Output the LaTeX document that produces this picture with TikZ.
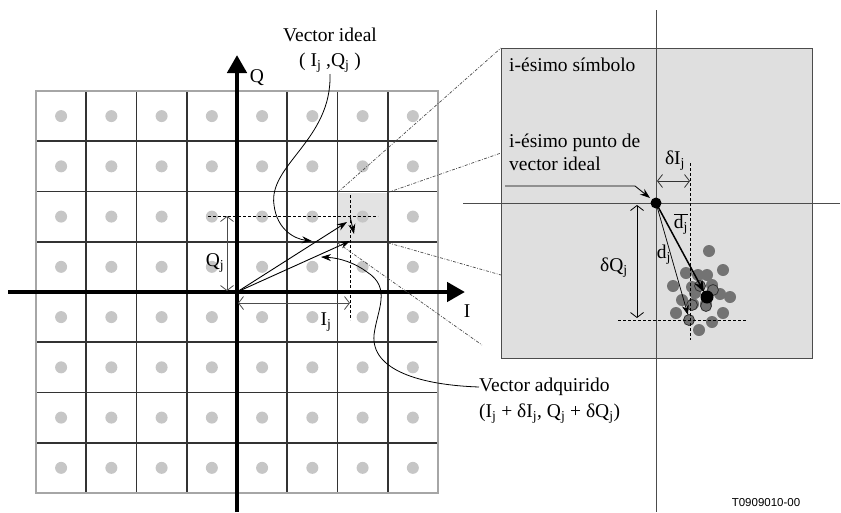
\documentclass[tikz,border=0pt]{standalone}
\usepackage{fontspec}
\setmainfont{Liberation Serif}
\newfontfamily\codefont{Liberation Sans}
\usetikzlibrary{arrows.meta}

\begin{document}
\begin{tikzpicture}[x=1pt, y=-1pt,
    every node/.style={font=\fontsize{19.5}{23}\selectfont, inner sep=0pt},
    cellline/.style={draw=black!80, line width=1.7pt},
    latdot/.style={fill=gray!45},
    axis/.style={line width=4.5pt, -{Triangle[width=19pt,length=18pt]}},
    vec/.style={line width=0.9pt, -{Stealth[length=10pt,width=7pt]}},
    meas/.style={draw=gray!60!black, line width=0.8pt, {Straight Barb[length=5pt,width=13pt]}-{Straight Barb[length=5pt,width=13pt]}},
    guide/.style={line width=0.8pt, dash pattern=on 3pt off 2pt},
    zoomline/.style={draw=gray!60!black, line width=0.7pt, dash pattern=on 3pt off 1.5pt on 0.8pt off 1.5pt},
    callout/.style={line width=0.8pt, -{Stealth[length=10pt,width=7pt]}},
    scat/.style={fill=black!55}
]
\useasboundingbox (0,0) rectangle (841,512);

% constellation grid
\fill[gray!22] (337.5,192.5) rectangle (387.75,242.75);
\foreach \i in {1,...,7} {
  \draw[cellline] (36+50.25*\i,91) -- (36+50.25*\i,493);
  \draw[cellline] (36,91+50.25*\i) -- (438,91+50.25*\i);
}
\draw[draw=gray!70, line width=1.5pt] (36,91) rectangle (438,493);
\foreach \i in {0,...,7}
  \foreach \j in {0,...,7}
    \fill[latdot] (61.1+50.25*\i,116.1+50.25*\j) circle (6);

\coordinate (O) at (237,292);
\coordinate (ideal) at (350,216);
\coordinate (acq) at (350,241);
\draw[axis] (237,512) -- (237,55);
\draw[axis] (8,292) -- (465,292);
\node (Qlab) at (257,78) {Q};
\node (Ilab) at (467,311) {I};

\draw[guide] (208,216) -- (378,216);
\draw[guide] (350,195) -- (350,320);
\draw[vec] (O) -- (347,222);
\draw[vec] (O) -- (acq);
\draw[vec] (ideal) -- (354,234);
\draw[meas] (238,303) -- (350,303);
\draw[meas] (227,216) -- (227,291);
\node (Ij) at (326,322) {I\textsubscript{j}};
\node (Qj) at (215,263) {Q\textsubscript{j}};

% zoom lines
\draw[zoomline] (337.5,192.5) -- (501,48);
\draw[zoomline] (387.75,192.5) -- (501,153);
\draw[zoomline] (387.75,242.75) -- (501,275);
\draw[zoomline] (337.5,242.75) -- (482,345);

% labels with curves
\node (videal) at (330,35) {Vector ideal};
\node (videalc) at (330,63) {( I\textsubscript{j} ,Q\textsubscript{j} )};
\draw[callout] (330,74) .. controls (332,140) and (268,165) .. (274,205)
  .. controls (277,230) and (295,239) .. (312,241);
\node[anchor=west] (vacq) at (479,387) {Vector adquirido};
\node[anchor=west] (vacqc) at (479,414) {(I\textsubscript{j} + δI\textsubscript{j}, Q\textsubscript{j} + δQ\textsubscript{j})};
\draw[callout] (vacq.west) .. controls (420,385) and (371,370) .. (374,335)
  .. controls (377,310) and (392,288) .. (367,272)
  .. controls (355,263) and (340,258) .. (321,257);

% zoomed symbol
\fill[gray!25, draw=gray!60!black, line width=0.9pt] (501,48) rectangle (812,358);
\draw[gray!60!black, line width=0.9pt] (656,10) -- (656,512);
\draw[gray!60!black, line width=0.9pt] (463,203) -- (840,203);
\node[anchor=west] (sym) at (509,65) {i-ésimo símbolo};
\node[anchor=west, align=left] (pt) at (509,152) {i-ésimo punto de\\vector ideal};

\foreach \p in {(709,251),(686,273),(698,275),(707,275),(723,270),(673,286),(692,287),
  (712,285),(720,294),(730,297),(695,293),(706,304),(676,313),(693,304),(712,322),
  (723,313),(699,330),(682,300)}
  \fill[scat] \p circle (6);
\foreach \p in {(700,286),(713,290),(692,305),(706,306),(689,320)}
  \filldraw[scat, draw=black!80, line width=0.8pt] \p circle (5.5);

\coordinate (ptideal) at (656,203);
\coordinate (mean) at (707,297);
\draw[guide] (690,163) -- (690,340);
\draw[guide] (618,320) -- (746,320);
\draw[meas, draw=black!80] (657,181) -- (690,181);
\draw[meas, draw=black] (637,205) -- (637,318);
\draw[line width=1.5pt, -{Stealth[length=12pt,width=9pt]}] (ptideal) -- (704,292);
\draw[line width=0.7pt, -{Stealth[length=10pt,width=7pt]}] (ptideal) -- (688,315);
\fill (mean) circle (6.5);
\fill (ptideal) circle (5.5);
\draw[callout] (505,186) -- (635,186) -- (650,198);

\node (dI) at (675,161) {δI\textsubscript{j}};
\node (dQ) at (614,268) {δQ\textsubscript{j}};
\node (dbar) at (681,224) {$\overline{\mbox{d\textsubscript{j}}}$};
\node (dj) at (664,255) {d\textsubscript{j}};

\node (code) at (766,503) {\codefont\fontsize{11.5}{13}\selectfont T0909010-00};
\end{tikzpicture}
\end{document}
